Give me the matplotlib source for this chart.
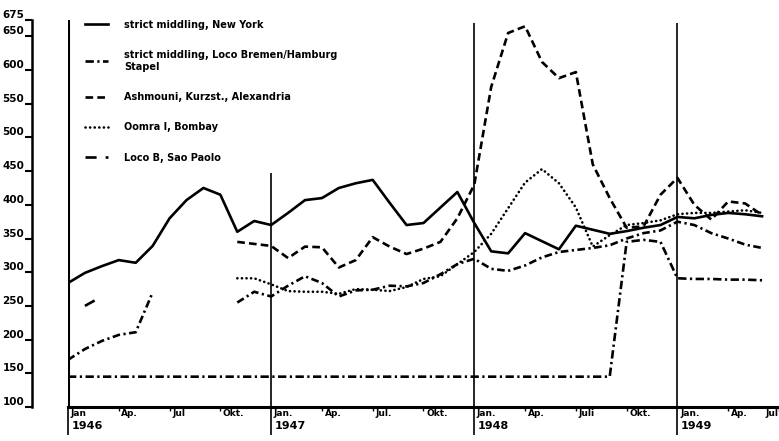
import numpy as np
import matplotlib
matplotlib.use('Agg')
import matplotlib.pyplot as plt
import matplotlib.transforms as mtransforms

plt.rcParams['font.family'] = 'DejaVu Sans'
plt.rcParams['font.weight'] = 'bold'
plt.rcParams['lines.scale_dashes'] = False

nan = np.nan

# month index: 0 = Jan 1946 ... 41 = Jun 1949
months = np.arange(42)

new_york = [284, 299, 309, 318, 314, 339, 380, 407, 425, 415, 360, 376,
            370, 388, 407, 410, 425, 432, 437, 403, 370, 373, 396, 419,
            373, 331, 328, 358, 346, 334, 369, 363, 357, 361, 366, 370,
            382, 380, 385, 388, 386, 383]

bremen_fixed = [145, 145, 145, 145, 145, 145, 145, 145, 145, 145, 145, 145,
                145, 145, 145, 145, 145, 145, 145, 145, 145, 145, 145, 145,
                145, 145, 145, 145, 145, 145, 145, 145, 145, 345, 348, 345,
                291, 290, 290, 289, 289, 288]

bremen_loco = [170, 186, 198, 207, 211, 270, nan, nan, nan, nan, 255, 271,
               264, 280, 294, 284, 264, 273, 274, 280, 279, 284, 297, 312,
               320, 305, 302, 310, 322, 330, 333, 336, 340, 350, 358, 362,
               375, 370, 358, 350, 341, 336]

alexandria = [nan, nan, nan, nan, nan, nan, nan, nan, nan, nan, 345, 342,
              339, 321, 338, 337, 307, 318, 352, 338, 327, 335, 345, 380,
              430, 575, 655, 665, 612, 588, 597, 460, 410, 366, 368, 415,
              440, 400, 378, 405, 402, 385]

bombay = [nan, nan, nan, nan, nan, nan, nan, nan, nan, nan, 291, 291,
          282, 272, 271, 271, 268, 275, 274, 272, 278, 290, 294, 312,
          330, 357, 395, 433, 453, 432, 396, 338, 355, 370, 373, 377,
          386, 388, 388, 390, 392, 388]

sao_paolo_months = [1, 2]
sao_paolo = [250, 264]

y_ticks = [100, 150, 200, 250, 300, 350, 400, 450, 500, 550, 600, 650, 675]
tick_months = [0, 3, 6, 9, 12, 15, 18, 21, 24, 27, 30, 33, 36, 39, 42]
tick_labels = ['Jan', 'Ap.', 'Jul', 'Okt.', 'Jan.', 'Ap.', 'Jul.', 'Okt.',
               'Jan.', 'Ap.', 'Juli', 'Okt.', 'Jan.', 'Ap.', 'Jul']
year_months = [0, 12, 24, 36]
year_labels = ['1946', '1947', '1948', '1949']

fig = plt.figure(figsize=(7.79, 4.41), dpi=100)
ax = fig.add_axes([68 / 779, 1 - 407 / 441, 711 / 779, 387.5 / 441])

lw = 1.9
l_ny, = ax.plot(months, new_york, color='k', lw=lw, solid_joinstyle='round')
l_br, = ax.plot(months, bremen_fixed, color='k', lw=lw,
                dashes=(6, 2.5, 1.6, 2.5))
ax.plot(months, bremen_loco, color='k', lw=lw, dashes=(5.5, 2.5, 1.6, 2.5))
l_al, = ax.plot(months, alexandria, color='k', lw=lw, dashes=(5.5, 3))
l_bo, = ax.plot(months, bombay, color='k', lw=lw, dashes=(0.1, 3.2),
                dash_capstyle='round')
l_sp, = ax.plot(sao_paolo_months, sao_paolo, color='k', lw=lw,
                dashes=(8, 6.5, 3, 6.5))

# year separators
ax.axvline(0, color='k', lw=2.2)
ax.vlines([12, 24, 36], 100, [447, 670, 670], color='k', lw=1.2)

ax.set_xlim(0, 42)
ax.set_ylim(100, 675)

for s in ['top', 'right']:
    ax.spines[s].set_visible(False)
ax.spines['left'].set_position(('outward', 26))
ax.spines['left'].set_linewidth(1.8)
ax.spines['bottom'].set_linewidth(2.2)

ax.set_yticks(y_ticks)
ax.set_yticklabels([str(v) for v in y_ticks])
ax.tick_params(axis='y', direction='out', length=5, width=1.5, pad=0.5,
               labelsize=7.5)
for lab in ax.get_yticklabels():
    lab.set_verticalalignment('bottom')

ax.set_xticks(year_months)
ax.set_xticks([m for m in tick_months if m not in year_months], minor=True)
ax.tick_params(axis='x', which='major', direction='out', length=20,
               width=1.2, labelbottom=False)
ax.tick_params(axis='x', which='minor', direction='out', length=3,
               width=1.0, labelbottom=False)

trans = mtransforms.blended_transform_factory(ax.transData, ax.transAxes)
for m, lab in zip(tick_months, tick_labels):
    if m == 42:
        ax.text(m - 0.05, -0.006, lab, transform=trans, ha='right',
                va='top', fontsize=6.5)
    else:
        ax.text(m + 0.15, -0.006, lab, transform=trans, ha='left',
                va='top', fontsize=6.5)
for m, lab in zip(year_months, year_labels):
    ax.text(m + 0.2, -0.036, lab, transform=trans, ha='left', va='top',
            fontsize=8)

ax.legend([l_ny, l_br, l_al, l_bo, l_sp],
          ['strict middling, New York',
           'strict middling, Loco Bremen/Hamburg\nStapel',
           'Ashmouni, Kurzst., Alexandria',
           'Oomra I, Bombay',
           'Loco B, Sao Paolo'],
          loc='upper left', bbox_to_anchor=(0.024, 1.0), frameon=False,
          fontsize=7, handlelength=2.4, handletextpad=1.6,
          labelspacing=2.1, borderpad=0, borderaxespad=0)

fig.savefig('out.png', dpi=100)
